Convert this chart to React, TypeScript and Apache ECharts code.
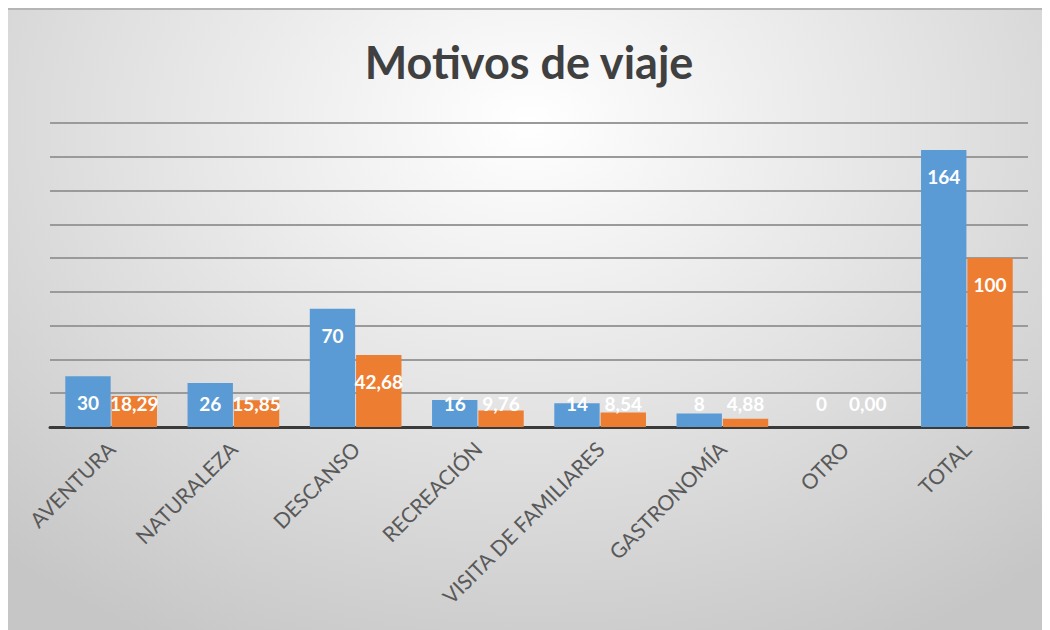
import React, { useEffect, useRef } from "react";
import * as echarts from "echarts";

const categories = [
  "AVENTURA",
  "NATURALEZA",
  "DESCANSO",
  "RECREACIÓN",
  "VISITA DE FAMILIARES",
  "GASTRONOMÍA",
  "OTRO",
  "TOTAL",
];
const counts = [30, 26, 70, 16, 14, 8, 0, 164];
const percents = [18.29, 15.85, 42.68, 9.76, 8.54, 4.88, 0, 100];
const yMin = 0;
const yMax = 180;
const yInterval = 20;

const fmtPct = (v: number) =>
  Number.isInteger(v) && v > 0 ? String(v) : v.toFixed(2).replace(".", ",");

const labelFor = (v: number) =>
  v >= 30
    ? { position: "insideTop", distance: 17 }
    : { position: "insideBottom", distance: 14 };

export default function App() {
  const ref = useRef<HTMLDivElement>(null);
  useEffect(() => {
    if (!ref.current) return;
    const chart = echarts.init(ref.current, undefined, { renderer: "svg" });
    const labelStyle = {
      show: true,
      color: "#ffffff",
      fontFamily: "Lato",
      fontWeight: "bold",
      fontSize: 19,
    };
    chart.setOption({
      animation: false,
      backgroundColor: "transparent",
      title: {
        text: "Motivos de viaje",
        left: "center",
        top: 24,
        textStyle: {
          fontFamily: "Lato",
          fontWeight: "bold",
          fontSize: 45,
          color: "#404040",
        },
      },
      grid: { left: 42, right: 22, top: 113, bottom: 203, containLabel: false },
      xAxis: {
        type: "category",
        data: categories,
        axisLine: { show: true, lineStyle: { color: "#3a3a3a", width: 3 } },
        axisTick: { show: false },
        axisLabel: {
          rotate: 45,
          interval: 0,
          margin: 18,
          color: "#595959",
          fontFamily: "Lato",
          fontSize: 21,
        },
      },
      yAxis: {
        type: "value",
        min: yMin,
        max: yMax,
        interval: yInterval,
        axisLabel: { show: false },
        axisLine: { show: false },
        axisTick: { show: false },
        splitLine: { lineStyle: { color: "#9a9a9a", width: 2 } },
      },
      series: [
        {
          type: "bar",
          name: "Cantidad",
          barGap: "2%",
          barCategoryGap: "25%",
          itemStyle: { color: "#5b9bd5" },
          data: counts.map((v) => ({ value: v, label: labelFor(v) })),
          label: { ...labelStyle, formatter: (p: any) => String(p.value) },
        },
        {
          type: "bar",
          name: "Porcentaje",
          itemStyle: { color: "#ed7d31" },
          data: percents.map((v) => ({ value: v, label: labelFor(v) })),
          label: { ...labelStyle, formatter: (p: any) => fmtPct(p.value) },
        },
      ],
    });
    return () => chart.dispose();
  }, []);
  return (
    <div
      ref={ref}
      style={{
        width: 1042,
        height: 622,
        boxSizing: "border-box",
        borderTop: "2px solid #b5b5b5",
        background:
          "radial-gradient(ellipse 75% 95% at 50% 18%, #ffffff 0%, #e6e6e6 45%, #c6c6c6 100%)",
      }}
    />
  );
}
